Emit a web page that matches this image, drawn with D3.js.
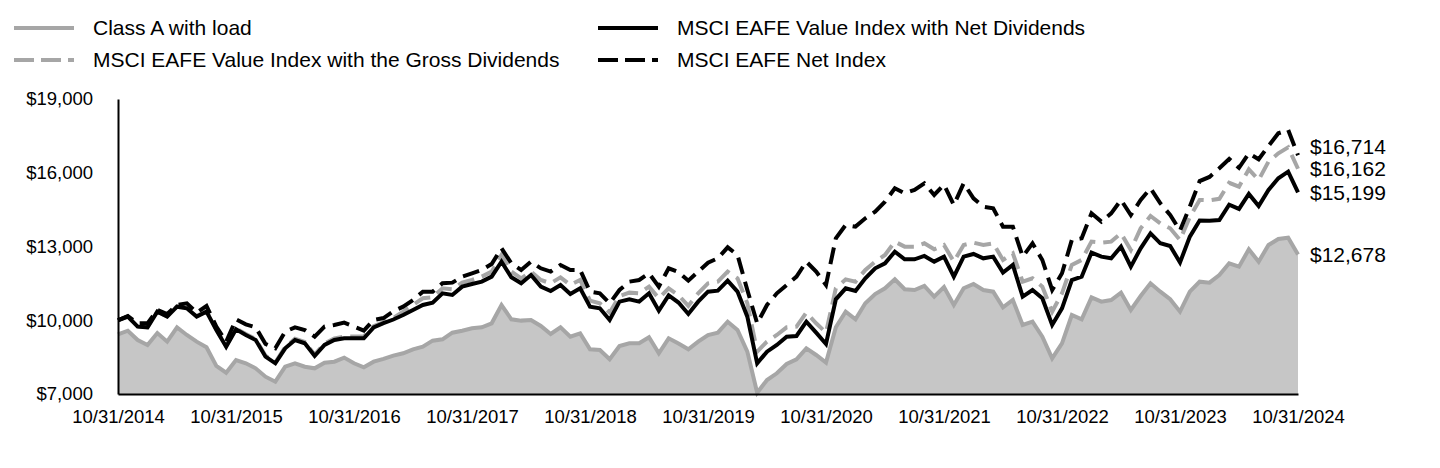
<!DOCTYPE html>
<html><head><meta charset="utf-8">
<script src="https://cdn.jsdelivr.net/npm/d3@7"></script>
<style>
html,body{margin:0;padding:0;background:#fff;}
svg{display:block;font-family:Arial,"Liberation Sans",sans-serif;}
</style></head><body>
<svg id="chart" width="1440" height="468"></svg>
<script>
// ---------- data ----------
const xTickLabels = ["10/31/2014","10/31/2015","10/31/2016","10/31/2017","10/31/2018","10/31/2019","10/31/2020","10/31/2021","10/31/2022","10/31/2023","10/31/2024"];
const yTickValues = [7000, 10000, 13000, 16000, 19000];
const seriesNames = ["Class A with load","MSCI EAFE Value Index with the Gross Dividends","MSCI EAFE Value Index with Net Dividends","MSCI EAFE Net Index"];

const classA = [9425,9575,9197,8993,9480,9130,9713,9400,9130,8900,8140,7867,8383,8248,8045,7705,7500,8110,8248,8110,8045,8275,8315,8480,8248,8085,8315,8430,8560,8655,8818,8925,9170,9225,9495,9575,9672,9713,9876,10620,10040,9985,10010,9767,9441,9713,9331,9468,8818,8790,8412,8953,9063,9063,9306,8655,9265,9050,8818,9130,9400,9495,9940,9604,8723,7050,7570,7842,8220,8412,8859,8587,8275,9713,10350,10040,10690,11068,11300,11666,11260,11231,11394,10960,11350,10620,11300,11475,11231,11163,10525,10824,9807,9940,9331,8452,9063,10214,10040,10933,10755,10824,11122,10417,10987,11503,11163,10853,10350,11163,11570,11530,11841,12317,12180,12885,12383,13062,13306,13360,12678];

const valueGross = [10000,10150,9745,9720,10360,10160,10570,10505,10170,10375,9630,8955,9665,9440,9240,8560,8290,8905,9250,9120,8600,9055,9265,9335,9340,9345,9760,9920,10090,10350,10621,10893,10933,11299,11259,11530,11638,11774,11977,12655,11977,11706,11977,11638,11503,11747,11435,11638,10798,10689,10309,10987,11123,11096,11367,10893,11299,11020,10581,11096,11503,11570,11977,11706,10689,8723,9130,9401,9713,9740,10309,9876,9496,11299,11665,11570,12045,12384,12655,13198,12994,12994,13130,12886,13062,12384,13062,13157,13062,13130,12452,12723,11570,11706,11367,10350,11096,12249,12452,13198,13157,13198,13537,12859,13740,14242,13943,13740,13265,14200,14892,14880,14940,15590,15435,16140,15706,16452,16791,17035,16162];

const valueNet = [10000,10147,9740,9713,10350,10147,10553,10486,10147,10350,9604,8926,9631,9401,9197,8519,8248,8858,9197,9063,8546,8994,9197,9265,9265,9265,9713,9880,10030,10214,10418,10621,10716,11096,11028,11367,11475,11570,11774,12384,11747,11503,11842,11367,11191,11435,11069,11299,10553,10486,10011,10757,10852,10757,11096,10391,11010,10720,10255,10757,11164,11204,11611,11164,10146,8248,8723,8994,9333,9360,9943,9496,9035,10852,11299,11191,11706,12113,12316,12791,12479,12479,12615,12384,12588,11774,12588,12696,12519,12588,11937,12249,10960,11231,10893,9808,10486,11638,11774,12750,12588,12519,12994,12181,12926,13537,13130,13021,12350,13401,14060,14052,14079,14700,14530,15137,14648,15299,15774,16045,15199];

const eafeNet = [10000,10174,9875,9875,10418,10255,10621,10689,10309,10580,9740,9130,10038,9835,9713,9035,8858,9536,9713,9604,9333,9740,9808,9903,9740,9577,10011,10090,10360,10553,10825,11164,11164,11503,11530,11774,11909,12045,12289,12926,12316,12045,12384,12113,11977,12248,12045,12045,11164,11096,10689,11231,11570,11638,11909,11367,12113,11960,11611,11977,12343,12519,12967,12655,11231,9876,10621,11096,11435,11774,12384,11977,11435,13333,13875,13808,14147,14418,14825,15367,15164,15299,15571,15096,15520,14689,15570,14960,14621,14553,13808,13808,12588,13130,12452,11231,11909,13265,13333,14350,14011,14350,14892,14282,14892,15367,14757,14282,13650,14621,15660,15830,16181,16560,16200,16791,16547,17089,17604,17740,16714];

// ---------- layout ----------
const svg = d3.select("#chart");
const nMonths = classA.length - 1;
const x = d3.scaleLinear().domain([0, nMonths]).range([118, 1298]);
const y = d3.scaleLinear().domain([7000, 19000]).range([394, 99]);
const GRAY = "#a6a6a6", FILL = "#c6c6c6", BLACK = "#000";
const DASH = "17,8";

const styles = [
  {data: classA,     color: GRAY,  dash: null},
  {data: valueGross, color: GRAY,  dash: DASH},
  {data: valueNet,   color: BLACK, dash: null},
  {data: eafeNet,    color: BLACK, dash: DASH}
];

// area for Class A
svg.append("path")
  .datum(classA)
  .attr("fill", FILL)
  .attr("d", d3.area().x((d,i)=>x(i)).y0(y(7000)).y1(d=>y(d)));

const line = d3.line().x((d,i)=>x(i)).y(d=>y(d));
styles.forEach(s => {
  svg.append("path")
    .datum(s.data)
    .attr("fill","none")
    .attr("stroke", s.color)
    .attr("stroke-width", 4)
    .attr("stroke-linejoin","miter")
    .attr("stroke-dasharray", s.dash)
    .attr("d", line);
});

// axes
const yAxis = d3.axisLeft(y).tickValues(yTickValues).tickSize(0).tickPadding(25)
  .tickFormat(d => "$" + d3.format(",")(d));
const gy = svg.append("g").attr("transform","translate(118,0)").call(yAxis);
gy.select(".domain").attr("stroke","#000").attr("stroke-width",2);
gy.selectAll("text").attr("font-size","18.5px").attr("fill","#000").attr("font-family","Arial, 'Liberation Sans', sans-serif");

const xAxis = d3.axisBottom(x).tickValues(d3.range(0, nMonths+1, 12)).tickSize(0).tickPadding(16)
  .tickFormat((d,i) => xTickLabels[i]);
const gx = svg.append("g").attr("transform","translate(0,394)").call(xAxis);
gx.select(".domain").attr("stroke","#000").attr("stroke-width",2);
gx.selectAll("text").attr("font-size","18.5px").attr("fill","#000").attr("font-family","Arial, 'Liberation Sans', sans-serif");

// end labels with simple collision avoidance
const ends = styles.map(s => ({v: s.data[nMonths], y: y(s.data[nMonths])}))
  .sort((a,b) => b.y - a.y);
for (let i = 1; i < ends.length; i++) {
  if (ends[i].y > ends[i-1].y - 22.5) ends[i].y = ends[i-1].y - 22.5;
}
svg.append("g").selectAll("text").data(ends).join("text")
  .attr("x", 1310).attr("y", d => d.y).attr("dy","0.35em")
  .attr("font-size","21px").attr("fill","#000")
  .text(d => "$" + d3.format(",")(d.v));

// legend
const legendPos = [
  {lx: 14, ty: 28}, {lx: 14, ty: 60}, {lx: 598, ty: 28}, {lx: 598, ty: 60}
];
styles.forEach((s, i) => {
  const p = legendPos[i];
  svg.append("line")
    .attr("x1", p.lx).attr("x2", p.lx + 60).attr("y1", p.ty).attr("y2", p.ty)
    .attr("stroke", s.color).attr("stroke-width", 4)
    .attr("stroke-dasharray", s.dash ? "20,7" : null);
  svg.append("text")
    .attr("x", p.lx + 79).attr("y", p.ty).attr("dy","0.35em")
    .attr("font-size","21px").attr("fill","#000")
    .text(seriesNames[i]);
});
</script>
</body></html>
